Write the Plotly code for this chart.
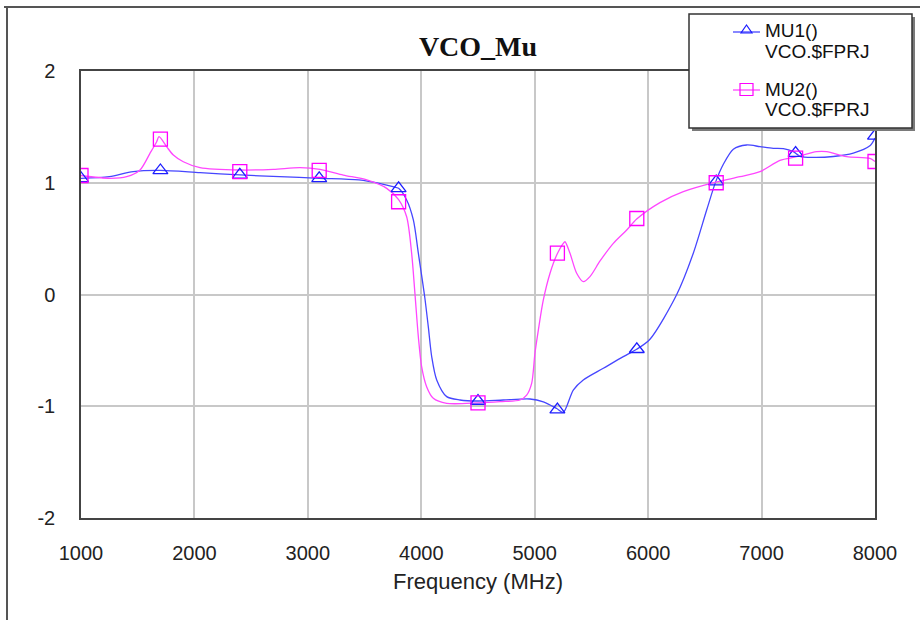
import plotly.graph_objects as go

# ---------------- data ----------------
mu1_freq = [1000, 1250, 1460, 1700, 2050, 2400, 2750, 3100, 3450, 3650, 3750, 3800,
            3871, 3930, 3974, 4030, 4062, 4092, 4136, 4224, 4341, 4500, 4723, 4958,
            5076, 5194, 5252, 5340, 5428, 5605, 5781, 5899, 6016, 6252, 6398,
            6516, 6596, 6663, 6751, 6868, 6986, 7103, 7192, 7280, 7339, 7456, 7632,
            7809, 7955, 8000]
mu1_val = [1.04, 1.055, 1.10, 1.11, 1.09, 1.07, 1.055, 1.04, 1.025, 0.99, 0.965, 0.95,
           0.846, 0.667, 0.37, -0.02, -0.29, -0.557, -0.765, -0.914, -0.944, -0.953, -0.944, -0.935,
           -0.96, -1.02, -1.054, -0.855, -0.765, -0.66, -0.556, -0.49, -0.40, 0.0, 0.369,
           0.756, 1.01, 1.165, 1.30, 1.338, 1.323, 1.308, 1.305, 1.278, 1.237, 1.227, 1.235,
           1.265, 1.33, 1.40]

mu2_freq = [1000, 1256, 1403, 1520, 1608, 1667, 1688, 1755, 1814, 1902, 2049, 2402,
            2695, 2931, 3107, 3312, 3519, 3695, 3800, 3871, 3915, 3944, 3974, 4003,
            4047, 4106, 4224, 4500, 4694, 4870, 4929, 4973, 5002, 5032, 5076, 5135,
            5194, 5252, 5267, 5311, 5370, 5428, 5487, 5576, 5693, 5811, 5899, 6104,
            6310, 6596, 6810, 6986, 7162, 7309, 7485, 7574, 7750, 7955, 8000]
mu2_val = [1.065, 1.04, 1.054, 1.114, 1.263, 1.367, 1.412, 1.323, 1.248, 1.188, 1.135, 1.114,
           1.12, 1.135, 1.12, 1.069, 1.025, 0.95, 0.85, 0.696, 0.369, 0.01, -0.378, -0.646,
           -0.825, -0.929, -0.974, -0.97, -0.959, -0.944, -0.90, -0.795, -0.526, -0.318, -0.049, 0.19,
           0.353, 0.458, 0.472, 0.369, 0.19, 0.115, 0.16, 0.30, 0.458, 0.577, 0.675, 0.822,
           0.92, 1.005, 1.054, 1.099, 1.20, 1.233, 1.278, 1.278, 1.233, 1.218, 1.19]

marker_freq = [1000, 1700, 2400, 3100, 3800, 4500, 5200, 5900, 6600, 7300, 8000]
mu1_marker_val = [1.04, 1.11, 1.07, 1.04, 0.95, -0.953, -1.03, -0.49, 1.01, 1.265, 1.42]
mu2_marker_val = [1.065, 1.39, 1.10, 1.11, 0.83, -0.97, 0.37, 0.68, 1.0, 1.22, 1.19]

x_ticks = [1000, 2000, 3000, 4000, 5000, 6000, 7000, 8000]
y_ticks = [-2, -1, 0, 1, 2]

series_names = ["MU1()", "MU2()"]
series_sub = "VCO.$FPRJ"
title_text = "VCO_Mu"
x_title = "Frequency (MHz)"

BLUE_LINE = "rgb(70,70,255)"
BLUE_MARK = "rgb(30,30,255)"
PINK_LINE = "rgb(255,70,255)"
PINK_MARK = "rgb(255,0,255)"

# ---------------- figure ----------------
W, H = 920, 620
L, R, T, B = 81, 45, 71, 102
PW, PH = W - L - R, H - T - B


def px(xp):
    return (xp - L) / PW


def py(yp):
    return (H - B - yp) / PH


fig = go.Figure()
fig.add_trace(go.Scatter(x=mu1_freq, y=mu1_val, mode="lines", name=series_names[0],
                         line=dict(color=BLUE_LINE, width=1.3, shape="spline", smoothing=0.8),
                         showlegend=False))
fig.add_trace(go.Scatter(x=mu2_freq, y=mu2_val, mode="lines", name=series_names[1],
                         line=dict(color=PINK_LINE, width=1.3, shape="spline", smoothing=0.8),
                         showlegend=False))
fig.add_trace(go.Scatter(x=marker_freq, y=mu1_marker_val, mode="markers", name=series_names[0],
                         marker=dict(symbol="triangle-up-open", size=13, color=BLUE_MARK,
                                     line=dict(width=1.3, color=BLUE_MARK)),
                         showlegend=False))
fig.add_trace(go.Scatter(x=marker_freq, y=mu2_marker_val, mode="markers", name=series_names[1],
                         marker=dict(symbol="square-open", size=14, color=PINK_MARK,
                                     line=dict(width=1.3, color=PINK_MARK)),
                         showlegend=False))

shapes = []
# outer frame lines
shapes.append(dict(type="line", xref="paper", yref="paper", x0=px(4), x1=px(921), y0=py(7), y1=py(7),
                   line=dict(color="#555", width=2)))
shapes.append(dict(type="line", xref="paper", yref="paper", x0=px(7), x1=px(7), y0=py(7), y1=py(621),
                   line=dict(color="#555", width=2)))
# legend shadow and box
shapes.append(dict(type="rect", xref="paper", yref="paper", x0=px(692), x1=px(915), y0=py(17), y1=py(131),
                   fillcolor="#7a7a7a", line=dict(width=0)))
shapes.append(dict(type="rect", xref="paper", yref="paper", x0=px(689), x1=px(912), y0=py(14), y1=py(128),
                   fillcolor="white", line=dict(color="#333", width=1.5)))
# legend symbols
shapes.append(dict(type="line", xref="paper", yref="paper", x0=px(733), x1=px(760), y0=py(32), y1=py(32),
                   line=dict(color=BLUE_LINE, width=1.3)))
tri = "M {},{} L {},{} L {},{} Z".format(px(741), py(33), px(752), py(33), px(746.5), py(25))
shapes.append(dict(type="path", xref="paper", yref="paper", path=tri,
                   line=dict(color=BLUE_MARK, width=1.2)))
shapes.append(dict(type="line", xref="paper", yref="paper", x0=px(733), x1=px(760), y0=py(90), y1=py(90),
                   line=dict(color=PINK_LINE, width=1.3)))
shapes.append(dict(type="rect", xref="paper", yref="paper", x0=px(740), x1=px(753), y0=py(83.5), y1=py(95.5),
                   line=dict(color=PINK_MARK, width=1.2)))

annotations = []
leg_font = dict(family="Liberation Sans, Arial, sans-serif", size=19, color="#111")
for txt, yc in [(series_names[0], 30.5), (series_sub, 51), (series_names[1], 89), (series_sub, 109.5)]:
    annotations.append(dict(text=txt, xref="paper", yref="paper", x=px(763), y=py(yc),
                            xanchor="left", yanchor="middle", showarrow=False, font=leg_font))

fig.update_layout(
    width=W, height=H,
    margin=dict(l=L, r=R, t=T, b=B, pad=0),
    paper_bgcolor="white", plot_bgcolor="white",
    title=dict(text="<b>" + title_text + "</b>", x=0.5, xref="paper", xanchor="center",
               y=1 - 46.5 / H, yanchor="middle",
               font=dict(family="Liberation Serif, Times New Roman, serif", size=28, color="#111")),
    shapes=shapes,
    annotations=annotations,
    showlegend=False,
)

axis_font = dict(family="Liberation Sans, Arial, sans-serif", size=20, color="#222")
fig.update_xaxes(range=[1000, 8000], tickvals=x_ticks, ticktext=[str(v) for v in x_ticks],
                 showgrid=True, gridcolor="#c8c8c8", gridwidth=1.5, zeroline=False,
                 showline=True, linecolor="#444", linewidth=1.5, mirror=True,
                 ticks="", ticklabelstandoff=16, tickfont=axis_font,
                 title=dict(text=x_title, font=dict(family="Liberation Sans, Arial, sans-serif", size=22, color="#222"),
                            standoff=11))
fig.update_yaxes(range=[-2, 2], tickvals=y_ticks, ticktext=[str(v) for v in y_ticks],
                 showgrid=True, gridcolor="#c8c8c8", gridwidth=1.5, zeroline=False,
                 showline=True, linecolor="#444", linewidth=1.5, mirror=True,
                 ticks="", ticklabelstandoff=20, tickfont=axis_font)

fig.write_html("out.html")
